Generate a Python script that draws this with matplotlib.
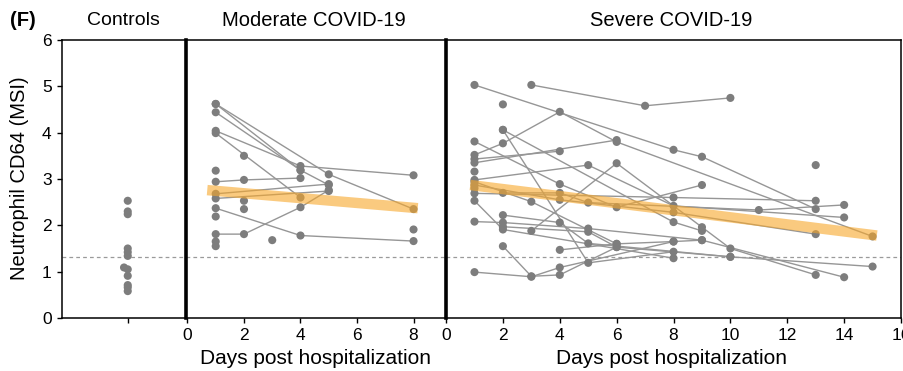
import matplotlib
matplotlib.use("Agg")
import matplotlib.pyplot as plt
import numpy as np

plt.rcParams['font.family'] = ['Liberation Sans', 'DejaVu Sans']

# ---------------- data ----------------
control_vals = [2.53, 2.30, 2.24, 1.50, 1.42, 1.34, 1.09, 1.05, 0.91, 0.71, 0.66, 0.58]
control_x = [0.53, 0.53, 0.53, 0.53, 0.53, 0.53, 0.50, 0.53, 0.53, 0.53, 0.53, 0.53]

mod_days = [
    [1, 5, 8], [1, 4], [1, 4, 5], [1, 4, 8], [1, 4],
    [1, 2, 4], [1, 5], [1, 5], [1, 4, 8], [1, 2, 4, 5],
    [1], [2], [2], [2], [3], [8], [1], [1], [1],
]
mod_vals = [
    [4.62, 3.10, 2.35], [4.62, 3.19], [4.44, 3.19, 2.87], [4.04, 3.28, 3.08], [3.99, 2.60],
    [2.94, 2.98, 3.02], [2.68, 2.89], [2.58, 2.74], [2.37, 1.78, 1.66], [1.81, 1.81, 2.39, 2.76],
    [3.18], [3.50], [2.53], [2.35], [1.68], [1.91], [2.19], [1.65], [1.55],
]

sev_days = [
    [1, 8, 9, 13], [3, 7, 10], [1, 2, 4, 6, 15], [1, 6], [1, 4],
    [1, 4, 6, 9], [2, 5, 8], [2, 8, 9], [3, 6, 9, 10, 13], [1, 5, 8, 14],
    [1, 8, 13], [2, 4, 5, 11, 14], [1, 4, 8, 13], [1, 3, 6, 8, 9], [1, 2, 5, 9, 14],
    [2, 5, 6, 10], [1, 3, 4, 8], [2, 3, 4, 6], [2, 4, 5, 10, 15], [1, 2, 8],
    [1], [2], [13], [4, 6], [1],
]
sev_vals = [
    [5.03, 3.63, 3.48, 2.35], [5.03, 4.58, 4.75], [3.52, 3.77, 4.45, 3.80, 1.76], [3.35, 3.84], [3.43, 3.60],
    [3.81, 2.89, 2.39, 2.87], [4.06, 1.19, 1.43], [4.06, 2.07, 1.88], [1.88, 3.34, 1.96, 1.50, 0.93], [2.98, 3.30, 2.42, 2.17],
    [2.69, 2.60, 2.53], [2.70, 2.70, 2.49, 2.33, 2.44], [2.87, 2.55, 2.28, 1.81], [2.94, 2.51, 1.60, 1.65, 1.68], [2.08, 2.06, 1.93, 1.68, 0.88],
    [1.97, 1.86, 1.53, 1.32], [0.99, 0.89, 1.09, 1.65], [1.55, 0.90, 0.93, 1.53], [2.22, 2.06, 1.61, 1.32, 1.11], [2.53, 1.91, 1.29],
    [3.16], [4.61], [3.30], [1.47, 1.60], [2.80],
]

mod_fit_days = [0.7, 8.15]
mod_fit_vals = [2.76, 2.37]
sev_fit_days = [0.85, 15.15]
sev_fit_vals = [2.87, 1.78]

threshold = 1.32

# ---------------- styling ----------------
dot_c = '#7d7d7d'
line_c = '#969696'
band_c = '#F7A72A'

fig = plt.figure(figsize=(9.04, 3.71), dpi=100)
bottom, height = 0.1429, 0.7493
ax_c = fig.add_axes([0.0686, bottom, 0.1372, height])
ax_m = fig.add_axes([0.2058, bottom, 0.2876, height])
ax_s = fig.add_axes([0.4934, bottom, 0.5033, height])

for ax in (ax_c, ax_m, ax_s):
    ax.set_ylim(0, 6)
    ax.axhline(threshold, color='#9a9a9a', lw=0.9, ls=(0, (3, 2.5)), zorder=1)
    for sp in ax.spines.values():
        sp.set_linewidth(1.1)
    ax.tick_params(axis='both', labelsize=12.5, length=3.5, width=1, pad=4)

# Controls
ax_c.set_xlim(0, 1)
ax_c.scatter(control_x, control_vals, s=34, color=dot_c, zorder=3, edgecolors='none')
ax_c.set_xticks([0.53])
ax_c.set_xticklabels([''])
ax_c.set_yticks(range(0, 7))
ax_c.spines['right'].set_visible(False)

# Moderate
ax_m.set_xlim(-0.05, 9.15)
for d, v in zip(mod_days, mod_vals):
    ax_m.plot(d, v, color=line_c, lw=1.0, zorder=2)
    ax_m.scatter(d, v, s=34, color=dot_c, zorder=3, edgecolors='none')
ax_m.plot(mod_fit_days, mod_fit_vals, color=band_c, alpha=0.6, lw=7.5,
          solid_capstyle='butt', zorder=4)
ax_m.set_xticks([0, 2, 4, 6, 8])
ax_m.set_yticks([])
ax_m.spines['left'].set_linewidth(2.6)
ax_m.spines['right'].set_visible(False)

# Severe
ax_s.set_xlim(0, 16)
for d, v in zip(sev_days, sev_vals):
    ax_s.plot(d, v, color=line_c, lw=1.0, zorder=2)
    ax_s.scatter(d, v, s=34, color=dot_c, zorder=3, edgecolors='none')
ax_s.plot(sev_fit_days, sev_fit_vals, color=band_c, alpha=0.6, lw=7.5,
          solid_capstyle='butt', zorder=4)
ax_s.set_xticks(range(0, 17, 2))
ax_s.set_yticks([])
ax_s.spines['left'].set_linewidth(2.6)

# Texts
fig.text(0.011, 0.945, '(F)', fontsize=14.5, fontweight='bold', va='center', ha='left')
fig.text(0.136, 0.945, 'Controls', fontsize=14, va='center', ha='center')
fig.text(0.347, 0.945, 'Moderate COVID-19', fontsize=14.5, va='center', ha='center')
fig.text(0.743, 0.945, 'Severe COVID-19', fontsize=14.5, va='center', ha='center')
fig.text(0.022, 0.52, 'Neutrophil CD64 (MSI)', fontsize=14.5, rotation=90, va='center', ha='center')
fig.text(0.349, 0.035, 'Days post hospitalization', fontsize=15, va='center', ha='center')
fig.text(0.743, 0.035, 'Days post hospitalization', fontsize=15, va='center', ha='center')

fig.savefig('out.png', dpi=100)
